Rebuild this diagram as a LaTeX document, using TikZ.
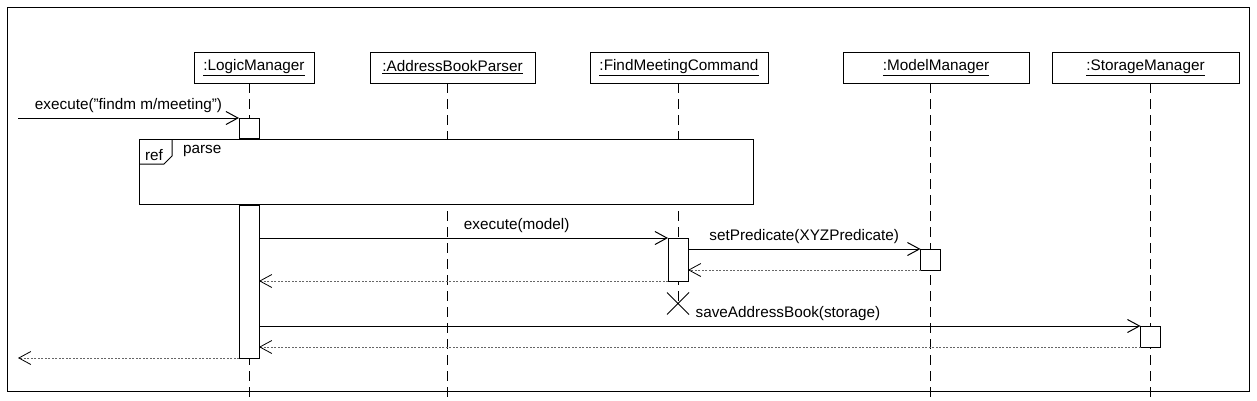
\documentclass[tikz,border=0pt]{standalone}
\usepackage{fontspec}
\setmainfont{Liberation Sans}
\usetikzlibrary{arrows.meta,shapes.misc}

\begin{document}
\begin{tikzpicture}[x=1pt, y=-1pt,
    every node/.style={font=\fontsize{15.3}{18}\selectfont, outer sep=0pt},
    obj/.style={draw, line width=1pt, minimum height=31pt, inner sep=0pt},
    act/.style={draw, fill=white, line width=1pt, minimum width=20pt, inner sep=0pt},
    life/.style={line width=0.9pt, dash pattern=on 10pt off 6pt},
    msg/.style={line width=1pt, -{Straight Barb[length=12pt,width=13pt]}},
    ret/.style={line width=0.8pt, gray!80!black, dash pattern=on 2pt off 1.5pt,
        -{Straight Barb[length=12pt,width=13pt,color=black]}}]
    \useasboundingbox (0,0) rectangle (1257,400);
    \draw[line width=1pt] (7,7) rectangle (1249,391);
    \coordinate (bottom) at (0,400);

    % participants
    \node[obj, minimum width=120pt](lm) at (254,67.5) {\underline{:LogicManager}};
    \node[obj, minimum width=165pt](abp) at (452.5,67.5) {\underline{:AddressBookParser}};
    \node[obj, minimum width=178pt](fmc) at (679,67.5) {\underline{:FindMeetingCommand}};
    \node[obj, minimum width=186pt](mm) at (936,67.5) {\underline{:ModelManager}};
    \node[obj, minimum width=187pt](sm) at (1145.5,67.5) {\underline{:StorageManager}};

    % lifelines
    \coordinate (la) at (249,0);
    \coordinate (fx) at (678,0);
    \coordinate (mx) at (930.5,0);
    \coordinate (sx) at (1150.5,0);
    \draw[life] (lm.south -| la) -- (la |- bottom);
    \draw[life] ([xshift=-5pt]abp.south) -- ([xshift=-5pt]abp.south |- bottom);
    \node[cross out, draw, line width=0.9pt, minimum size=22pt](kill) at (678,303.5) {};
    \draw[life] (fmc.south -| fx) -- (kill.center);
    \draw[life] (mm.south -| mx) -- (mx |- bottom);
    \draw[life] (sm.south -| sx) -- (sx |- bottom);

    % ref frame
    \node[draw, fill=white, line width=1pt, minimum width=614pt, minimum height=65pt, inner sep=0pt](refparse) at (446,171.5) {};
    \draw[line width=1pt] (refparse.north west) ++(33,0) -- ++(0,17) -- ++(-8,8) -- ++(-25,0);
    \node[anchor=base west, inner sep=0pt](reftag) at (145,160) {ref};
    \node[anchor=base west, inner sep=0pt](refname) at (183,153) {parse};

    % activations
    \node[act, minimum height=20pt](la1) at (249,128) {};
    \node[act, minimum height=153pt](la2) at (249,281.5) {};
    \node[act, minimum height=43pt](fa) at (678,259.5) {};
    \node[act, minimum height=21pt](ma) at (930.5,259.5) {};
    \node[act, minimum height=21pt](sa) at (1150.5,336.5) {};

    % messages
    \coordinate (in) at (18,118);
    \coordinate (out) at (18,358);
    \draw[msg] (in) -- (la1.north west) node[midway, above=2pt]{execute("findm m/meeting")};
    \draw[msg] (la2.east |- fa.north) -- (fa.north west) node[pos=.63, above=2pt]{execute(model)};
    \draw[msg] (fa.east |- ma.north) -- (ma.north west) node[midway, above=2pt]{setPredicate(XYZPredicate)};
    \draw[ret] (ma.south west) -- (fa.east |- ma.south);
    \draw[ret] (fa.south west) -- (la2.east |- fa.south);
    \draw[msg] (la2.east |- sa.north) -- (sa.north west) node[pos=.6, above=2pt]{saveAddressBook(storage)};
    \draw[ret] (sa.south west) -- (la2.east |- sa.south);
    \draw[ret] (la2.south west) -- (out);
\end{tikzpicture}
\end{document}
